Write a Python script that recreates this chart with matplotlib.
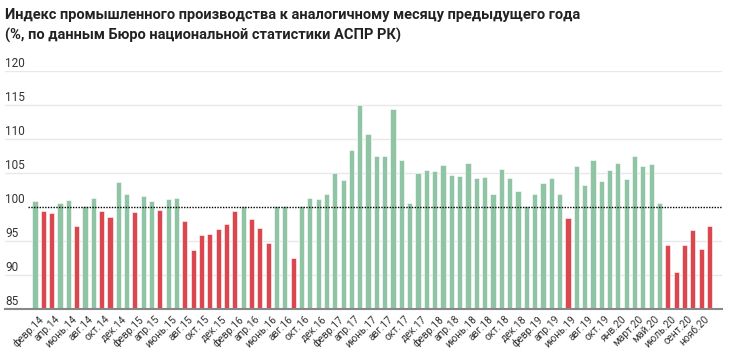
import numpy as np
import matplotlib.pyplot as plt

plt.rcParams['font.family'] = ['Roboto', 'DejaVu Sans']

# индекс промышленного производства, февр.2014 - нояб.2020
values = [100.8, 99.3, 99.0, 100.6, 101.0, 97.1, 100.1, 101.3, 99.3, 98.4, 103.6,
          101.8, 99.2, 101.6, 100.8, 99.5, 101.1, 101.3, 97.9, 93.6, 95.8, 96.0,
          96.7, 97.5, 99.3, 100.1, 98.2, 96.9, 94.7, 100.1, 100.1, 92.5, 100.1,
          101.2, 101.1, 101.8, 104.9, 103.9, 108.3, 114.9, 110.7, 107.4, 107.4,
          114.4, 106.8, 100.6, 104.9, 105.4, 105.2, 106.1, 104.6, 104.5, 106.4,
          104.2, 104.4, 101.8, 105.5, 104.2, 102.3, 100.1, 101.8, 103.5, 104.2,
          101.8, 98.3, 105.9, 103.2, 106.9, 103.7, 105.4, 106.4, 104.1, 107.4,
          105.9, 106.2, 100.5, 94.4, 90.4, 94.4, 96.5, 93.7, 97.1]

tick_labels = ['февр.14', 'апр.14', 'июнь.14', 'авг.14', 'окт.14', 'дек.14',
               'февр.15', 'апр.15', 'июнь.15', 'авг.15', 'окт.15', 'дек.15',
               'февр.16', 'апр.16', 'июнь.16', 'авг.16', 'окт.16', 'дек.16',
               'февр.17', 'апр.17', 'июнь.17', 'авг.17', 'окт.17', 'дек.17',
               'февр.18', 'апр.18', 'июнь.18', 'авг.18', 'окт.18', 'дек.18',
               'февр.19', 'апр.19', 'июнь.19', 'авг.19', 'окт.19', 'янв.20',
               'март.20', 'май.20', 'июль.20', 'сент.20', 'нояб.20']

y_ticks = [85, 90, 95, 100, 105, 110, 115, 120]

green = '#8fc4a5'
red = '#da474e'

x = np.arange(len(values))
colors = [green if v >= 100 else red for v in values]

fig = plt.figure(figsize=(7.3, 3.51), dpi=100)
ax = fig.add_axes([5 / 730, 1 - 308.5 / 351, 717 / 730, 237.8 / 351])

ax.bar(x, np.array(values) - 85, bottom=85, width=0.62, color=colors,
       edgecolor='white', linewidth=0.4, zorder=2)

ax.set_xlim(-3.6, 82.5)
ax.set_ylim(85, 120)

# сетка и подписи оси y
for t in y_ticks[1:]:
    if t == 100:
        continue
    ax.axhline(t, color='#e8e8e8', lw=1, zorder=1)
for t in y_ticks:
    ax.annotate(str(t), (0, t), xycoords=('axes fraction', 'data'),
                xytext=(0, 2.5), textcoords='offset points',
                ha='left', va='baseline', fontsize=8.5, color='#333333')

ax.axhline(100, xmin=23 / 717, xmax=1, color='black', lw=1,
           linestyle=(0, (1, 1)), zorder=3)

ax.set_yticks([])
ax.set_xticks(x[::2][:len(tick_labels)] + 0.4)
ax.set_xticklabels(tick_labels, rotation=45, ha='right',
                   rotation_mode='anchor', fontsize=7.4, color='#333333')
ax.tick_params(axis='x', length=0, pad=4)

for s in ['top', 'right', 'left']:
    ax.spines[s].set_visible(False)
ax.spines['bottom'].set_color('#888888')
ax.spines['bottom'].set_linewidth(1.5)
ax.spines['bottom'].set_zorder(4)

fig.text(5 / 730, 1 - 8 / 351,
         'Индекс промышленного производства к аналогичному месяцу предыдущего года',
         ha='left', va='top', fontsize=10.5, fontweight='bold', color='#222222')
fig.text(5 / 730, 1 - 28 / 351,
         '(%, по данным Бюро национальной статистики АСПР РК)',
         ha='left', va='top', fontsize=10.5, fontweight='bold', color='#222222')

fig.savefig('out.png', dpi=100)
